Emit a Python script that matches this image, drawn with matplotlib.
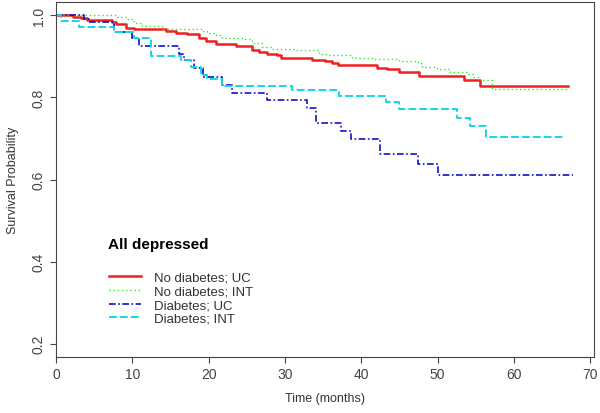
import numpy as np
import matplotlib
matplotlib.use("Agg")
import matplotlib.pyplot as plt

plt.rcParams['font.family'] = ['Liberation Sans', 'DejaVu Sans']

# Kaplan-Meier step curves (time in months, survival)
red_t = [0, 2.2, 3.3, 4.1, 7.3, 7.9, 9.2, 10.2, 14.4, 15.7, 17.2, 18.8, 19.6, 21.0,
         23.6, 25.7, 26.6, 27.6, 28.9, 29.5, 33.5, 35.2, 36.2, 36.9, 42.0, 43.4,
         45.0, 47.6, 53.5, 55.5, 67.1]
red_s = [1, .997, .993, .988, .983, .978, .970, .966, .962, .958, .954, .946, .937, .930,
         .925, .915, .911, .907, .903, .897, .892, .889, .884, .878, .873, .869,
         .862, .852, .843, .829, .829]

green_t = [0, 8.0, 9.3, 10.2, 11.3, 13.9, 19.2, 19.8, 21.0, 21.7, 24.4, 25.7, 27.0,
           28.3, 31.2, 34.5, 35.4, 38.8, 41.5, 45.0, 47.4, 48.0, 49.9, 51.6, 53.8,
           54.6, 55.5, 57.1, 67.3]
green_s = [1, .997, .991, .982, .975, .968, .963, .958, .952, .946, .942, .932, .923,
           .918, .915, .907, .903, .897, .893, .889, .884, .875, .869, .862, .856,
           .851, .842, .820, .820]

blue_t = [0, 3.7, 4.3, 7.6, 10.0, 10.9, 16.1, 16.8, 18.1, 19.2, 21.8, 23.0, 27.6,
          32.9, 34.1, 37.4, 38.7, 42.4, 47.4, 50.0, 67.7]
blue_s = [1, .991, .985, .960, .946, .925, .907, .891, .873, .850, .831, .812, .795,
          .775, .738, .718, .699, .661, .638, .611, .611]

cyan_t = [0, 0.7, 3.0, 7.6, 10.2, 12.5, 16.4, 17.7, 19.0, 19.8, 21.8, 30.9, 37.1,
          43.3, 45.0, 52.5, 54.3, 56.3, 66.7]
cyan_s = [1, .986, .972, .960, .944, .901, .891, .874, .854, .844, .829, .817, .803,
          .788, .773, .751, .730, .703, .703]

labels = ['No diabetes; UC', 'No diabetes; INT', 'Diabetes; UC', 'Diabetes; INT']
x_ticks = [0, 10, 20, 30, 40, 50, 60, 70]
y_ticks = [0.2, 0.4, 0.6, 0.8, 1.0]

fig = plt.figure(figsize=(6.0, 4.14), dpi=100)
ax = fig.add_axes([0.0933, 0.136, 0.8967, 0.857])

ax.step(red_t, red_s, where='post', color='#ee2020', lw=1.8, label=labels[0])
ax.step(green_t, green_s, where='post', color='#33e633', lw=1.0,
        dashes=(1, 2), label=labels[1])
ax.step(blue_t, blue_s, where='post', color='#1010cc', lw=1.2,
        dashes=(4, 1.5, 1, 1.5), label=labels[2])
ax.step(cyan_t, cyan_s, where='post', color='#10d8e8', lw=1.4,
        dashes=(4, 1.6), label=labels[3])

ax.set_xlim(0, 70.5)
ax.set_ylim(0.168, 1.033)
ax.set_xticks(x_ticks)
ax.set_yticks(y_ticks)
ax.set_yticklabels([f'{v:.1f}' for v in y_ticks], rotation=90, va='center')
ax.tick_params(colors='#444444', labelcolor='#444444', labelsize=10,
               length=4, width=0.8)
for sp in ax.spines.values():
    sp.set_color('#444444')
    sp.set_linewidth(0.8)

ax.set_xlabel('Time (months)', fontsize=9, color='#333333', labelpad=8)
ax.set_ylabel('Survival Probability', fontsize=9, color='#333333', labelpad=9)

ax.text(0.0967, 0.318, 'All depressed', transform=ax.transAxes,
        fontsize=11, fontweight='bold', va='center', ha='left')
ax.legend(loc='upper left', bbox_to_anchor=(0.0985, 0.240), frameon=False,
          fontsize=9.5, handlelength=2.4, handletextpad=1.0, labelspacing=0.11,
          borderpad=0, borderaxespad=0, labelcolor='#333333')

fig.savefig('out.png', dpi=100)
